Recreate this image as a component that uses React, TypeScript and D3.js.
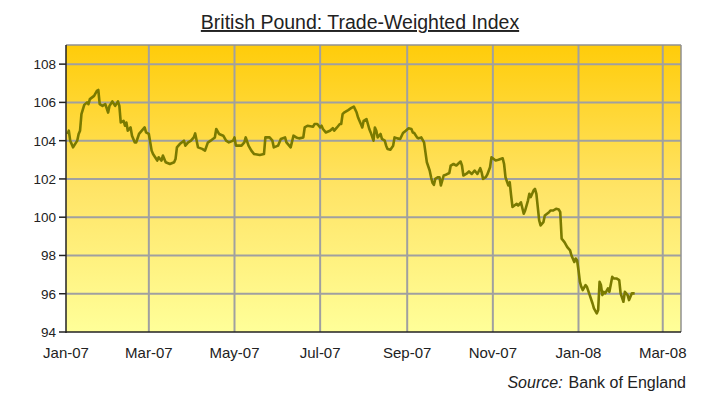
import React from "react";
import * as d3 from "d3";

const dates: string[] = [
  "2007-01-02","2007-01-03","2007-01-04","2007-01-06","2007-01-09","2007-01-10","2007-01-11","2007-01-12","2007-01-14","2007-01-16",
  "2007-01-17","2007-01-18","2007-01-21","2007-01-23","2007-01-24","2007-01-25","2007-01-27","2007-01-29","2007-01-31","2007-02-01",
  "2007-02-03","2007-02-05","2007-02-07","2007-02-08","2007-02-09","2007-02-11","2007-02-12","2007-02-13","2007-02-14","2007-02-16",
  "2007-02-17","2007-02-19","2007-02-20","2007-02-22","2007-02-24","2007-02-26","2007-02-27","2007-03-01","2007-03-03","2007-03-04",
  "2007-03-07","2007-03-08","2007-03-10","2007-03-11","2007-03-13","2007-03-16","2007-03-19","2007-03-20","2007-03-21","2007-03-23",
  "2007-03-26","2007-03-27","2007-03-29","2007-03-31","2007-04-02","2007-04-03","2007-04-05","2007-04-08","2007-04-10","2007-04-12",
  "2007-04-14","2007-04-17","2007-04-18","2007-04-20","2007-04-23","2007-04-25","2007-04-27","2007-04-30","2007-05-01","2007-05-02",
  "2007-05-06","2007-05-08","2007-05-09","2007-05-11","2007-05-13","2007-05-15","2007-05-19","2007-05-22","2007-05-23","2007-05-26",
  "2007-05-28","2007-05-29","2007-06-01","2007-06-03","2007-06-06","2007-06-07","2007-06-10","2007-06-12","2007-06-14","2007-06-16",
  "2007-06-19","2007-06-20","2007-06-22","2007-06-26","2007-06-27","2007-06-29","2007-07-01","2007-07-02","2007-07-03","2007-07-05",
  "2007-07-08","2007-07-10","2007-07-11","2007-07-13","2007-07-15","2007-07-16","2007-07-17","2007-07-18","2007-07-21","2007-07-23",
  "2007-07-25","2007-07-27","2007-07-28","2007-07-30","2007-07-31","2007-08-01","2007-08-03","2007-08-04","2007-08-05","2007-08-06",
  "2007-08-08","2007-08-09","2007-08-10","2007-08-11","2007-08-13","2007-08-14","2007-08-16","2007-08-17","2007-08-18","2007-08-20",
  "2007-08-22","2007-08-23","2007-08-25","2007-08-27","2007-08-29","2007-08-31","2007-09-02","2007-09-04","2007-09-05","2007-09-06",
  "2007-09-08","2007-09-09","2007-09-11","2007-09-13","2007-09-14","2007-09-15","2007-09-17","2007-09-18","2007-09-19","2007-09-20",
  "2007-09-21","2007-09-23","2007-09-24","2007-09-25","2007-09-27","2007-09-28","2007-10-01","2007-10-02","2007-10-04","2007-10-06",
  "2007-10-09","2007-10-10","2007-10-11","2007-10-13","2007-10-15","2007-10-17","2007-10-19","2007-10-21","2007-10-23","2007-10-24",
  "2007-10-25","2007-10-27","2007-10-28","2007-10-30","2007-10-31","2007-11-03","2007-11-05","2007-11-08","2007-11-09","2007-11-10",
  "2007-11-12","2007-11-13","2007-11-14","2007-11-15","2007-11-18","2007-11-19","2007-11-21","2007-11-23","2007-11-24","2007-11-26",
  "2007-11-27","2007-11-28","2007-11-30","2007-12-01","2007-12-02","2007-12-04","2007-12-05","2007-12-07","2007-12-08","2007-12-11",
  "2007-12-12","2007-12-14","2007-12-16","2007-12-18","2007-12-19","2007-12-20","2007-12-22","2007-12-24","2007-12-26","2007-12-27",
  "2007-12-29","2007-12-30","2007-12-31","2008-01-01","2008-01-02","2008-01-03","2008-01-04","2008-01-06","2008-01-07","2008-01-09",
  "2008-01-11","2008-01-12","2008-01-14","2008-01-15","2008-01-16","2008-01-17","2008-01-18","2008-01-19","2008-01-20","2008-01-22",
  "2008-01-23","2008-01-25","2008-01-26","2008-01-28","2008-01-30","2008-01-31","2008-02-02","2008-02-03","2008-02-05","2008-02-06",
  "2008-02-08","2008-02-10",
];

const values: number[] = [
  104.35,104.52,104.0,103.65,104.0,104.35,104.52,105.39,105.87,106.0,
  105.91,106.17,106.34,106.6,106.65,105.91,105.82,105.91,105.47,105.82,
  106.05,105.82,106.05,105.82,104.95,105.04,104.78,104.95,104.52,104.69,
  104.26,103.91,103.91,104.35,104.52,104.69,104.43,104.35,103.48,103.3,
  102.96,103.13,102.96,103.22,102.87,102.78,102.87,103.04,103.65,103.82,
  104.0,103.74,103.91,104.0,104.17,104.38,103.65,103.57,103.48,103.9,
  104.0,104.17,104.61,104.35,104.26,104.0,103.91,104.0,104.17,103.74,
  103.74,103.91,104.17,103.74,103.48,103.3,103.25,103.3,104.17,104.17,
  104.0,103.65,103.74,104.09,104.17,103.91,103.65,104.26,104.17,104.12,
  104.17,104.69,104.78,104.73,104.87,104.87,104.69,104.78,104.61,104.43,
  104.52,104.65,104.52,104.69,104.87,104.87,105.39,105.47,105.6,105.7,
  105.78,105.47,105.21,104.87,104.69,105.04,105.13,104.87,104.61,104.43,
  104.0,104.69,104.52,104.17,104.35,104.09,104.0,103.74,103.57,103.53,
  103.74,104.17,104.12,104.09,104.4,104.52,104.65,104.61,104.43,104.4,
  104.17,104.12,104.17,103.91,103.39,102.87,102.44,102.09,101.8,101.69,
  102.0,102.09,102.09,101.66,102.18,102.2,102.31,102.7,102.78,102.7,
  102.91,102.7,102.18,102.26,102.39,102.26,102.44,102.26,102.56,102.35,
  102.0,102.09,102.22,102.61,103.13,102.96,103.0,103.08,102.78,102.09,
  101.66,101.83,101.14,100.53,100.7,100.61,100.78,100.18,100.35,100.87,
  101.22,101.05,101.4,101.48,101.22,99.83,99.57,99.74,100.09,100.26,
  100.35,100.35,100.44,100.4,100.26,98.88,98.7,98.44,98.27,98.0,
  97.66,97.84,97.75,97.23,96.62,96.36,96.19,96.45,96.36,95.93,
  95.49,95.23,94.97,95.15,96.62,96.45,95.93,96.1,96.02,96.28,
  96.1,96.88,96.8,96.8,96.71,96.02,95.58,96.1,95.93,95.67,
  96.02,96.02,
];

const yTicks: number[] = [94, 96, 98, 100, 102, 104, 106, 108];
const xTickLabels: string[] = ["Jan-07", "Mar-07", "May-07", "Jul-07", "Sep-07", "Nov-07", "Jan-08", "Mar-08"];
const xTickDates: string[] = ["2007-01-01", "2007-03-01", "2007-05-01", "2007-07-01", "2007-09-01", "2007-11-01", "2008-01-01", "2008-03-01"];

const title = "British Pound: Trade-Weighted Index";

export default function App() {
  const W = 720, H = 404;
  const left = 66, right = 681, top = 45, bottom = 332;
  const parse = d3.utcParse("%Y-%m-%d");
  const x = d3.scaleUtc()
    .domain([parse("2007-01-01")!, parse("2008-03-14")!])
    .range([left, right]);
  const y = d3.scaleLinear().domain([94, 109]).range([bottom, top]);
  const pts = dates.map((d, i) => [x(parse(d)!), y(values[i])] as [number, number]);
  const line = d3.line<[number, number]>().x(p => p[0]).y(p => p[1]).curve(d3.curveLinear);
  const font = "'Liberation Sans', Arial, sans-serif";

  return (
    <svg width={W} height={H} style={{ position: "absolute", left: 0, top: 0, background: "#fff" }}>
      <defs>
        <linearGradient id="bg" x1="0" y1="0" x2="0" y2="1">
          <stop offset="0" stopColor="#FFCC0A" />
          <stop offset="0.5" stopColor="#FFE466" />
          <stop offset="1" stopColor="#FFFF99" />
        </linearGradient>
      </defs>
      <text x={360} y={29} textAnchor="middle" fontFamily={font} fontSize={19.5} fill="#222" textDecoration="underline">{title}</text>
      <rect x={left} y={top} width={right - left} height={bottom - top} fill="url(#bg)" />
      {yTicks.filter(t => t !== 94).map(t => (
        <line key={"gy" + t} x1={left} x2={right} y1={y(t)} y2={y(t)} stroke="#a0a0a0" strokeWidth={2} />
      ))}
      {xTickDates.slice(1).map(d => (
        <line key={"gx" + d} x1={x(parse(d)!)} x2={x(parse(d)!)} y1={top} y2={bottom} stroke="#a0a0a0" strokeWidth={2} />
      ))}
      <line x1={left} x2={right} y1={top} y2={top} stroke="#909090" strokeWidth={1.5} />
      <line x1={right} x2={right} y1={top} y2={bottom} stroke="#909090" strokeWidth={1.5} />
      <path d={line(pts) || ""} fill="none" stroke="#7a7a00" strokeWidth={2.6} strokeLinejoin="round" />
      <line x1={left} x2={left} y1={top} y2={bottom + 1} stroke="#222" strokeWidth={1.5} />
      <line x1={left} x2={right} y1={bottom} y2={bottom} stroke="#222" strokeWidth={1.5} />
      {yTicks.map(t => (
        <g key={"ty" + t}>
          <line x1={left - 7} x2={left} y1={y(t)} y2={y(t)} stroke="#222" strokeWidth={1.5} />
          <text x={left - 10} y={y(t)} dy="0.36em" textAnchor="end" fontFamily={font} fontSize={13.5} fill="#222">{t}</text>
        </g>
      ))}
      {xTickDates.map((d, i) => (
        <text key={"tx" + d} x={x(parse(d)!)} y={358} textAnchor="middle" fontFamily={font} fontSize={15} fill="#222">{xTickLabels[i]}</text>
      ))}
      <text x={686} y={388} textAnchor="end" fontFamily={font} fontSize={16} fill="#222">
        <tspan fontStyle="italic">Source:</tspan>
        <tspan dx={6}>Bank of England</tspan>
      </text>
    </svg>
  );
}
